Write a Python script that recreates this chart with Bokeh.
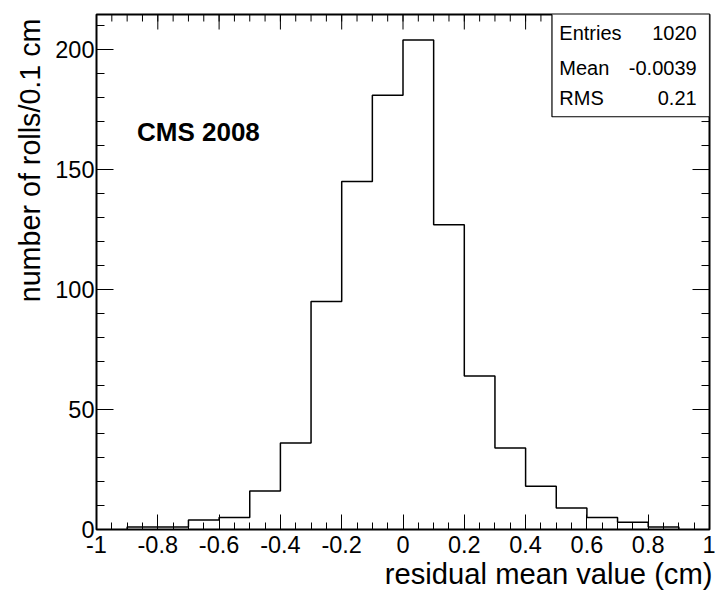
import math
from bokeh.plotting import figure
from bokeh.models import FixedTicker, Range1d, ColumnDataSource, Title, Label
from bokeh.core.properties import value
from bokeh.embed import file_html
from bokeh.resources import INLINE

# ---- data ----
bin_edges = [-0.9, -0.8, -0.7, -0.6, -0.5, -0.4, -0.3, -0.2, -0.1, 0.0,
             0.1, 0.2, 0.3, 0.4, 0.5, 0.6, 0.7, 0.8, 0.9]
counts = [1, 1, 4, 5, 16, 36, 95, 145, 181, 204, 127, 64, 34, 18, 9, 5, 3, 1]

x_ticks = [-1, -0.8, -0.6, -0.4, -0.2, 0, 0.2, 0.4, 0.6, 0.8, 1]
x_tick_labels = ["-1", "-0.8", "-0.6", "-0.4", "-0.2", "0", "0.2", "0.4", "0.6", "0.8", "1"]
y_ticks = [0, 50, 100, 150, 200]
y_tick_labels = ["0", "50", "100", "150", "200"]

stat_names = ["Entries", "Mean", "RMS"]
stat_values = ["1020", "-0.0039", "0.21"]

x_title = "residual mean value (cm)"
y_title = "number of rolls/0.1 cm"
tag = "CMS 2008"

FONT = "Liberation Sans"
Y_TOP = 214.6

# ---- figure ----
p = figure(width=715, height=595, x_range=Range1d(-1, 1), y_range=Range1d(0, Y_TOP),
           output_backend="svg", toolbar_location=None,
           min_border_left=96, min_border_right=6, min_border_top=14, min_border_bottom=66)
p.grid.visible = False
p.background_fill_color = "white"
p.border_fill_color = "white"
p.outline_line_color = "black"
p.outline_line_width = 2

x_minor = [round(-1 + 0.05 * i, 2) for i in range(41)]
y_minor = [10 * i for i in range(22)]

def style_axis(ax, ticks, minor, labels, major_len, minor_len):
    ax.ticker = FixedTicker(ticks=ticks, minor_ticks=minor)
    ax.major_label_overrides = {t: l for t, l in zip(ticks, labels)}
    ax.axis_line_color = None
    ax.major_tick_in = major_len
    ax.major_tick_out = 0
    ax.minor_tick_in = minor_len
    ax.minor_tick_out = 0
    ax.major_tick_line_color = "black"
    ax.minor_tick_line_color = "black"
    ax.major_tick_line_width = 1
    ax.minor_tick_line_width = 1
    ax.major_label_text_font = FONT
    ax.major_label_text_color = "black"
    ax.major_label_text_font_size = "23.5px"

style_axis(p.xaxis[0], x_ticks, x_minor, x_tick_labels, 15, 7)
p.xaxis[0].major_label_standoff = 6
style_axis(p.yaxis[0], y_ticks, y_minor, y_tick_labels, 17, 8)
p.yaxis[0].major_label_standoff = 2

# mirror ticks on top and right edges
p.ray(x=x_minor, y=[Y_TOP] * len(x_minor), length=7, length_units="screen",
      angle=-math.pi / 2, line_color="black", line_width=1)
p.ray(x=x_ticks, y=[Y_TOP] * len(x_ticks), length=15, length_units="screen",
      angle=-math.pi / 2, line_color="black", line_width=1)
p.ray(x=[1.0] * len(y_minor), y=y_minor, length=8, length_units="screen",
      angle=math.pi, line_color="black", line_width=1)
p.ray(x=[1.0] * len(y_ticks), y=y_ticks, length=17, length_units="screen",
      angle=math.pi, line_color="black", line_width=1)

# ---- histogram outline ----
step_x = [bin_edges[0]] + list(bin_edges)
step_y = [0] + list(counts) + [0]
p.step(x=step_x, y=step_y, mode="after", line_color="black", line_width=1.5)

# ---- stats box ----
p.quad(left=[0.486], right=[1.0], top=[215.5], bottom=[172], fill_color="white",
       line_color="black", line_width=1.2)
stat_y = [206.7, 192.5, 179.6]
src = ColumnDataSource(dict(x1=[0.51] * 3, x2=[0.958] * 3, y=stat_y, n=stat_names, v=stat_values))
p.text(x="x1", y="y", text="n", source=src, text_font=value(FONT), text_font_size="20px",
       text_baseline="middle", text_align="left", text_color="black")
p.text(x="x2", y="y", text="v", source=src, text_font=value(FONT), text_font_size="20px",
       text_baseline="middle", text_align="right", text_color="black")

# ---- texts ----
p.add_layout(Label(x=-0.868, y=165.6, text=tag, text_font=FONT, text_font_size="26px",
                   text_font_style="bold", text_baseline="middle", text_align="left",
                   text_color="black"))
p.add_layout(Title(text=x_title, align="right", text_font=FONT, text_font_size="29.2px",
                   text_font_style="normal", text_color="black", standoff=0, offset=-3), "below")
p.add_layout(Title(text=y_title, align="right", text_font=FONT, text_font_size="28.7px",
                   text_font_style="normal", text_color="black", standoff=14, offset=4), "left")

open("out.html", "w").write(file_html(p, INLINE))
